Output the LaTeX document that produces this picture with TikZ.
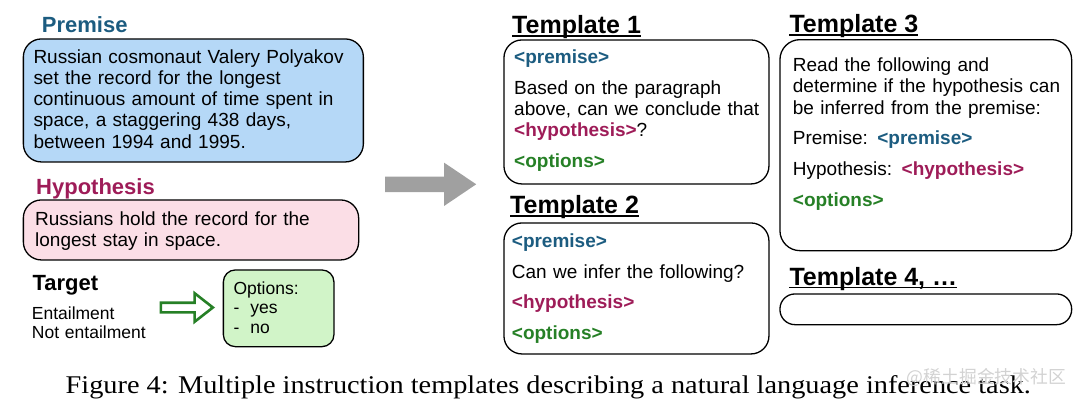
\documentclass[tikz,border=0pt]{standalone}
\usepackage{fontspec}
\setmainfont{Liberation Sans}
\newfontfamily\captionfont[FakeStretch=1.11]{Liberation Serif}
\newfontfamily\cjkfont{Noto Sans CJK SC}
\usepackage{tikz}
\usetikzlibrary{shapes.arrows, positioning}

\definecolor{PremiseColor}{RGB}{28,92,128}
\definecolor{HypoColor}{RGB}{158,28,88}
\definecolor{OptColor}{RGB}{38,128,38}
\definecolor{PremiseFill}{RGB}{181,216,247}
\definecolor{HypoFill}{RGB}{251,222,230}
\definecolor{OptFill}{RGB}{209,244,200}
\definecolor{ArrowGray}{RGB}{160,160,160}

\tikzstyle{box} = [draw, line width=1.3pt, rounded corners=18pt, inner sep=0pt, anchor=north west]
\tikzstyle{heading} = [font=\fontsize{22}{26}\selectfont\bfseries, inner sep=0pt, anchor=base west]
\tikzstyle{tplhead} = [font=\fontsize{25}{29}\selectfont\bfseries, inner sep=0pt, anchor=base west]
\tikzstyle{body} = [font=\fontsize{19}{21.2}\selectfont, inner sep=0pt, anchor=base west, align=left]
\tikzstyle{small} = [font=\fontsize{17.5}{19.5}\selectfont, inner sep=0pt, anchor=base west, align=left]
\tikzstyle{uline} = [line width=1.8pt]

\newcommand{\premtag}{\textcolor{PremiseColor}{\textbf{<premise>}}}
\newcommand{\hypotag}{\textcolor{HypoColor}{\textbf{<hypothesis>}}}
\newcommand{\opttag}{\textcolor{OptColor}{\textbf{<options>}}}

\begin{document}
\begin{tikzpicture}[x=1pt, y=-1pt]
\useasboundingbox (0,0) rectangle (1080,402);

% premise and hypothesis
\node[heading, text=PremiseColor] (premhead) at (41.7,32.3) {Premise};
\node[box, fill=PremiseFill, minimum width=340, minimum height=123] (prembox) at (22.7,38.3) {};
\node[body, text width=328] (premtext) at (33.3,63.3) {Russian cosmonaut Valery Polyakov\\
    set the record for the longest\\
    continuous amount of time spent in\\
    space, a staggering 438 days,\\
    between 1994 and 1995.};

\node[heading, text=HypoColor] (hypohead) at (36,194) {Hypothesis};
\node[box, fill=HypoFill, minimum width=335.3, minimum height=60] (hypobox) at (22.7,199.3) {};
\node[body, text width=320] (hypotext) at (35,225) {Russians hold the record for the\\ longest stay in space.};

% target and options
\node[heading, font=\fontsize{22}{26}\selectfont\bfseries] (target) at (32.3,290.7) {Target};
\node[small, font=\fontsize{17.5}{19}\selectfont, text width=125] (targettext) at (31.7,319.3) {Entailment\\ Not entailment};
\node[single arrow, draw=OptColor, line width=2.6pt, fill=white, inner xsep=0pt, inner ysep=3.5pt,
      minimum height=52, single arrow head extend=9.5pt, single arrow tip angle=76, anchor=tail] (optarrow) at (159.6,307.5) {};
\node[box, fill=OptFill, rounded corners=12pt, minimum width=110.6, minimum height=76.7] (optbox) at (222.7,269.3) {};
\node[small, text width=100] (opttext) at (233.3,294) {Options:\\ \makebox[17pt][l]{-}yes\\ \makebox[17pt][l]{-}no};

% big arrow
\node[single arrow, fill=ArrowGray, inner xsep=0pt, inner ysep=7.5pt, minimum height=91,
      single arrow head extend=14pt, single arrow tip angle=68, anchor=tail] (bigarrow) at (385,184.3) {};

% templates
\node[tplhead] (t1head) at (512,33.3) {Template 1};
\node[box, minimum width=265, minimum height=144] (t1box) at (503.3,39.3) {};
\node[body, text width=252] (t1text) at (514,63.3) {\premtag\\[9.5pt]
    Based on the paragraph\\ above, can we conclude that\\ \hypotag?\\[9.5pt]
    \opttag};

\node[tplhead] (t2head) at (510,213.3) {Template 2};
\node[box, minimum width=265, minimum height=131] (t2box) at (503.3,222.3) {};
\node[body, text width=252] (t2text) at (511.7,247.3) {\premtag\\[9.5pt]
    Can we infer the following?\\[9.5pt]
    \hypotag\\[9.5pt]
    \opttag};

\node[tplhead] (t3head) at (789.3,32.3) {Template 3};
\node[box, rounded corners=20pt, minimum width=291.7, minimum height=211] (t3box) at (779.3,39) {};
\node[body, text width=276] (t3text) at (792.7,71.7) {Read the following and\\
    determine if the hypothesis can\\ be inferred from the premise:\\[9.5pt]
    Premise: \premtag\\[9.5pt]
    Hypothesis: \hypotag\\[9.5pt]
    \opttag};

\node[tplhead] (t4head) at (789.3,285) {Template 4, …};
\node[box, rounded corners=15pt, minimum width=291.7, minimum height=30.7] (t4box) at (779.3,293.3) {};

\draw[uline] ([yshift=-3pt]t1head.base west) -- ([yshift=-3pt]t1head.base east);
\draw[uline] ([yshift=-3pt]t2head.base west) -- ([yshift=-3pt]t2head.base east);
\draw[uline] ([yshift=-3pt]t3head.base west) -- ([yshift=-3pt]t3head.base east);
\draw[uline] ([yshift=-2.5pt]t4head.base west) -- ([yshift=-2.5pt]t4head.base east);

% caption
\node[font=\captionfont\fontsize{25.5}{30}\selectfont, inner sep=0pt, anchor=base] (caption) at (548.3,393.3)
    {Figure 4: Multiple instruction templates describing a natural language inference task.};
\node[font=\cjkfont\fontsize{17.8}{22}\selectfont, text=gray!35, inner sep=0pt, anchor=base west] (watermark) at (906.7,383) {@稀土掘金技术社区};
\end{tikzpicture}
\end{document}
